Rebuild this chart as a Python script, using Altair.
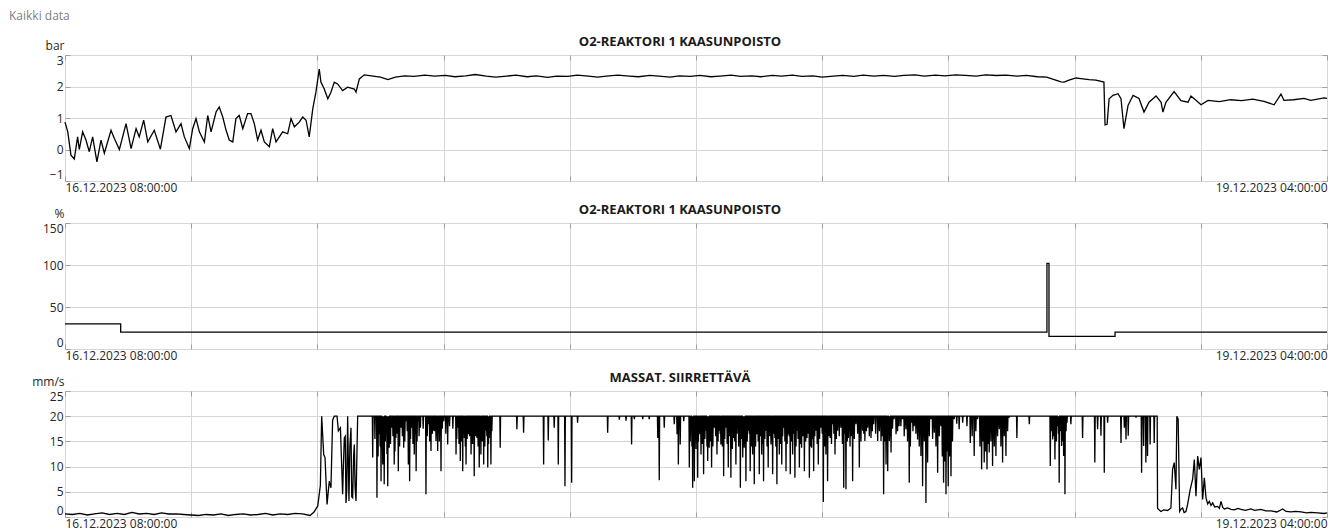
import altair as alt
import pandas as pd

START = pd.Timestamp("2023-12-16 08:00:00")
END = pd.Timestamp("2023-12-19 04:00:00")

# ---------------- Panel 1: O2-REAKTORI 1 KAASUNPOISTO (bar) ----------------
p1_hours = [0.00, 0.15, 0.32, 0.50, 0.68, 0.77, 0.95, 1.13, 1.31, 1.49, 1.72, 1.94, 2.12,
            2.48, 2.66, 2.93, 3.29, 3.56, 3.83, 4.00, 4.24, 4.46, 4.81, 5.14, 5.44, 5.71,
            5.98, 6.25, 6.43, 6.70, 6.88, 7.06, 7.24, 7.51, 7.69, 7.87, 8.14, 8.31, 8.50,
            8.68, 8.85, 9.04, 9.21, 9.39, 9.58, 9.84, 10.02, 10.20, 10.38, 10.56, 10.74,
            11.01, 11.19, 11.37, 11.73, 12.00, 12.18, 12.36, 12.62, 12.81, 12.99, 13.16,
            13.35, 13.52, 13.70, 13.79, 13.97, 14.16, 14.33, 14.51, 14.69, 14.96, 15.23,
            15.59, 15.68, 15.86, 16.13, 16.6, 17.0, 17.4, 17.8, 18.3, 18.8, 19.4, 19.9,
            20.5, 21.0, 21.6, 22.1, 22.7, 23.2, 23.8, 24.3, 24.9, 25.4, 26.0, 26.5, 27.1,
            27.6, 28.2, 28.7, 29.3, 29.8, 30.4, 30.9, 31.5, 32.0, 32.6, 33.1, 33.7, 34.2,
            34.8, 35.3, 35.9, 36.4, 37.0, 37.5, 38.1, 38.6, 39.2, 39.7, 40.3, 40.8, 41.4,
            41.9, 42.5, 43.0, 43.6, 44.1, 44.7, 45.2, 45.8, 46.3, 46.9, 47.4, 48.0, 48.5,
            49.1, 49.6, 50.2, 50.7, 51.3, 51.8, 52.4, 52.9, 53.3, 53.67, 53.83, 54.10,
            54.48, 54.74, 55.18, 55.55, 55.98, 56.04, 56.15, 56.26, 56.47, 56.74, 56.90,
            57.06, 57.28, 57.55, 57.87, 58.14, 58.41, 58.79, 59.06, 59.16, 59.32, 59.76,
            60.13, 60.51, 60.67, 60.94, 61.21, 61.59, 62.2, 62.8, 63.4, 64.0, 64.6, 65.15,
            65.52, 65.68, 66.2, 66.76, 67.13, 67.84, 68.0]
p1_bar = [0.87, 0.56, -0.18, -0.30, 0.40, 0.00, 0.56, 0.30, -0.07, 0.40, -0.39, 0.30, -0.12,
          0.61, 0.35, 0.00, 0.82, 0.03, 0.66, 0.40, 0.93, 0.24, 0.61, 0.01, 1.03, 1.08,
          0.56, 0.82, 0.40, 0.03, 0.66, 0.98, 0.56, 0.24, 1.08, 0.56, 1.19, 1.35, 1.03,
          0.61, 0.30, 0.24, 0.98, 1.08, 0.66, 1.14, 1.14, 0.82, 0.30, 0.61, 0.24,
          0.09, 0.66, 0.24, 0.56, 0.50, 0.98, 0.72, 0.87, 1.03, 0.93, 0.40,
          1.29, 1.82, 2.55, 2.14, 1.92, 1.61, 1.82, 2.14, 2.08, 1.87, 1.98,
          1.92, 1.82, 2.24, 2.37, 2.33, 2.30, 2.22, 2.30, 2.34, 2.32, 2.36, 2.33,
          2.35, 2.31, 2.34, 2.38, 2.33, 2.30, 2.33, 2.36, 2.31, 2.34, 2.29, 2.33, 2.32,
          2.36, 2.33, 2.30, 2.34, 2.36, 2.33, 2.31, 2.35, 2.33, 2.30, 2.34, 2.32, 2.35,
          2.31, 2.33, 2.36, 2.32, 2.34, 2.31, 2.35, 2.33, 2.36, 2.32, 2.34, 2.30, 2.33,
          2.35, 2.32, 2.36, 2.33, 2.35, 2.32, 2.35, 2.37, 2.33, 2.36, 2.34, 2.37, 2.35,
          2.33, 2.37, 2.35, 2.36, 2.33, 2.35, 2.31, 2.30, 2.22, 2.15, 2.14, 2.20,
          2.27, 2.25, 2.22, 2.20, 2.14, 0.78, 0.80, 1.61, 1.72, 1.77, 1.61,
          0.66, 1.40, 1.72, 1.62, 1.19, 1.50, 1.70, 1.50, 1.19, 1.50, 1.84,
          1.55, 1.50, 1.70, 1.56, 1.42, 1.56, 1.52, 1.58, 1.55, 1.60, 1.53, 1.42,
          1.76, 1.56, 1.58, 1.62, 1.56, 1.64, 1.62]

# ---------------- Panel 2: O2-REAKTORI 1 KAASUNPOISTO (%) ----------------
p2_hours = [0.0, 3.0, 52.91, 53.02, 56.58, 68.0]
p2_pct = [30, 20, 102, 15, 20, 20]

# ---------------- Panel 3: MASSAT. SIIRRETTÄVÄ (mm/s) ----------------
p3_start_hours = [0.0, 0.4, 0.8, 1.2, 1.6, 2.0, 2.4, 2.8, 3.2, 3.6, 4.0, 4.4, 4.8, 5.2, 5.6,
                  6.0, 6.4, 6.8, 7.2, 7.6, 8.0, 8.4, 8.8, 9.2, 9.6, 10.0, 10.4, 10.8, 11.2,
                  11.6, 12.0, 12.4, 12.8, 13.2, 13.42, 13.62, 13.76, 13.83, 13.94, 14.01,
                  14.12, 14.24, 14.33, 14.42, 14.51, 14.66, 14.73, 14.84, 14.96, 15.00, 15.05,
                  15.10, 15.14, 15.18, 15.23, 15.30, 15.35, 15.41, 15.45, 15.50, 15.55, 15.59,
                  15.63, 15.68, 15.77]
p3_start_vals = [0.6, 0.5, 0.7, 0.4, 0.6, 0.8, 0.5, 0.7, 0.5, 0.9, 0.6, 0.7, 0.5, 0.8, 0.6,
                 0.6, 0.5, 0.4, 0.3, 0.5, 0.4, 0.6, 0.3, 0.5, 0.6, 0.4, 0.5, 0.7, 0.4,
                 0.6, 0.5, 0.7, 0.6, 0.3, 1.0, 2.2, 6.3, 20.0, 12.4, 11.8,
                 2.5, 7.1, 5.8, 19.2, 20.0, 20.0, 17.1, 17.7, 4.5, 10.0, 15.7,
                 16.0, 2.8, 5.0, 20.0, 3.2, 14.0, 17.7, 4.0, 3.8, 12.0, 14.4,
                 6.0, 3.2, 20.0]
p3_plateau = 20.0
# dips from the 20 mm/s plateau (deep strokes)
p3_dip_hours = [16.58, 16.81, 16.93, 17.03, 17.12, 17.20, 17.31, 17.39, 17.47, 17.60, 17.74,
                17.83, 17.96, 18.10, 18.25, 18.37, 18.50, 18.57, 18.68, 18.82, 18.92, 19.01,
                19.15, 19.45, 19.58, 19.72, 19.87, 19.99, 20.08, 20.26, 20.41, 20.62, 21.07,
                21.16, 21.30, 21.43, 21.52, 21.61, 21.73, 21.88, 22.05, 22.20, 22.32, 22.41,
                22.56, 22.68, 22.78, 22.86, 22.95, 23.45, 24.35, 24.71, 25.79, 26.04, 26.36,
                26.58, 26.94, 27.30, 27.62, 29.24, 29.87, 30.23, 30.53, 30.68, 31.13, 31.48,
                31.94, 32.02, 32.29, 32.83, 32.98, 33.05, 33.15, 33.34, 33.64, 33.73, 33.82,
                33.91, 34.09, 34.18, 34.27, 34.41, 34.54, 34.63, 34.71, 34.84, 34.98, 35.13,
                35.25, 35.34, 35.49, 35.61, 35.74, 35.88, 36.03, 36.15, 36.39, 36.52, 36.60,
                36.69, 36.82, 36.92, 37.05, 37.14, 37.28, 37.41, 37.54, 37.64, 37.77, 37.89,
                38.04, 38.13, 38.25, 38.36, 38.49, 38.62, 38.72, 38.85, 38.97, 39.08, 39.21,
                39.33, 39.44, 39.57, 39.69, 39.84, 39.98, 40.11, 40.23, 40.34, 40.46, 40.59,
                40.73, 40.86, 41.00, 41.09, 41.23, 41.36, 41.49, 41.63, 41.81, 41.96, 42.08,
                42.21, 42.44, 42.62, 42.80, 42.98, 43.10, 43.25, 43.43, 43.57, 43.79, 43.97,
                44.11, 44.24, 44.33, 44.42, 44.51, 44.67, 44.78, 44.94, 45.13, 45.31, 45.49,
                45.62, 45.76, 45.94, 46.12, 46.21, 46.39, 46.48, 46.66, 46.84, 47.02, 47.20,
                47.34, 47.47, 47.59, 47.74, 47.91, 48.18, 48.37, 48.78, 48.99, 49.17, 49.39,
                49.53, 49.68, 49.80, 49.98, 50.16, 50.34, 50.52, 50.70, 50.88, 51.29, 51.96,
                53.09, 53.22, 53.34, 53.49, 53.57, 53.70, 53.81, 53.88, 53.99, 54.20, 54.83,
                55.49, 55.64, 55.82, 56.00, 56.18, 56.90, 57.08, 57.17, 57.29, 57.71, 58.01,
                58.12, 58.24, 58.33, 58.47, 58.69]
p3_dip_vals = [11.8, 3.8, 16.4, 7.1, 10.4, 6.5, 18.4, 6.1, 13.75, 17.7, 10.4,
               15.7, 9.1, 17.7, 13.75, 19.0, 10.4, 7.1, 17.7, 12.4, 9.1, 19.0,
               17.7, 4.5, 18.4, 13.1, 17.1, 15.1, 13.1, 9.1, 19.0, 14.4, 12.4,
               17.7, 11.1, 9.1, 15.7, 10.4, 16.4, 12.4, 8.1, 15.7, 9.8, 12.4,
               10.4, 17.1, 9.8, 15.7, 10.4, 13.75, 17.4, 16.7, 10.4, 15.2, 17.7,
               10.4, 6.1, 6.8, 18.7, 16.7, 19.3, 19.1, 14.4, 19.4, 19.4, 19.4,
               15.7, 7.3, 17.7, 18.4, 16.4, 10.4, 14.4, 19.0, 9.8, 17.7, 5.8,
               7.1, 7.8, 16.4, 12.4, 8.5, 17.1, 11.1, 13.75, 9.8, 17.7, 12.4,
               17.1, 14.4, 8.1, 17.7, 9.8, 7.8, 15.7, 10.4, 5.8, 11.8, 13.75,
               7.1, 17.1, 9.1, 12.4, 6.5, 16.4, 8.5, 12.4, 7.1, 17.1, 9.8,
               14.4, 8.5, 15.7, 6.5, 12.4, 10.4, 17.7, 9.1, 16.4, 8.5, 12.4,
               7.8, 17.1, 9.8, 13.75, 9.1, 15.7, 7.8, 13.75, 9.1, 17.1, 10.4,
               17.7, 3.0, 12.4, 7.1, 15.7, 18.4, 12.4, 17.1, 17.7, 5.8, 5.5,
               15.7, 7.1, 18.4, 9.8, 17.1, 15.1, 17.7, 15.7, 18.4, 15.1, 15.1,
               4.5, 10.4, 9.1, 15.1, 12.8, 19.4, 16.4, 18.0, 19.4, 17.4, 6.8,
               18.7, 18.0, 15.4, 12.1, 6.1, 2.8, 10.8, 19.4, 16.7, 8.8, 18.0,
               6.8, 4.5, 6.1, 8.1, 19.4, 17.4, 18.7, 14.7, 12.1, 19.4, 9.45,
               10.8, 9.45, 12.8, 10.1, 12.1, 17.4, 10.8, 12.1, 19.7, 15.7, 18.4,
               10.1, 15.4, 11.4, 18.0, 6.8, 14.1, 12.1, 4.5, 18.7, 18.4, 15.7,
               10.8, 17.4, 16.1, 8.8, 18.7, 14.7, 17.7, 15.4, 16.1, 19.7, 8.8,
               14.1, 10.8, 12.1, 14.4, 14.7]
# shallower strokes filling the dense bands just below 20 mm/s
p3_band_hours = [16.70, 16.87, 16.98, 17.08, 17.16, 17.26, 17.35, 17.43, 17.54, 17.67, 17.78,
                 17.90, 18.03, 18.18, 18.31, 18.44, 18.62, 18.75, 18.87, 18.97, 19.08, 19.30,
                 19.52, 19.65, 19.80, 19.93, 20.04, 20.17, 20.33, 20.52, 20.72, 20.90, 21.11,
                 21.23, 21.36, 21.48, 21.57, 21.67, 21.80, 21.96, 22.13, 22.26, 22.37, 22.49,
                 22.62, 22.73, 22.82, 22.91, 23.00,
                 33.69, 33.78, 33.86, 34.00, 34.13, 34.22, 34.34, 34.48, 34.59, 34.67, 34.78,
                 34.91, 35.06, 35.19, 35.30, 35.42, 35.55, 35.68, 35.81, 35.96, 36.09, 36.21,
                 36.30, 36.46, 36.56, 36.64, 36.76, 36.87, 36.98, 37.10, 37.21, 37.35, 37.48,
                 37.59, 37.71, 37.83, 37.96, 38.08, 38.19, 38.30, 38.43, 38.56, 38.67, 38.79,
                 38.91, 39.02, 39.15, 39.27, 39.39, 39.50, 39.63, 39.77, 39.91, 40.05, 40.17,
                 40.29, 40.40, 40.53, 40.66, 40.80, 40.93, 41.05, 41.16, 41.30, 41.43, 41.56,
                 41.72, 41.89, 42.02, 42.15, 42.30, 42.37, 42.53, 42.71, 42.89, 43.04, 43.18,
                 43.34, 43.50, 43.68, 43.88, 44.04, 44.17, 44.29, 44.38, 44.46, 44.59,
                 44.86, 45.04, 45.22, 45.40, 45.55, 45.69, 45.85, 46.03, 46.30, 46.57, 46.75,
                 46.93, 47.11, 47.27, 47.40, 47.53, 47.66, 47.82, 48.05, 48.60, 48.88, 49.08,
                 49.30, 49.46, 49.60, 49.74, 49.89, 50.07, 50.25, 50.43, 50.61, 50.79,
                 53.15, 53.28, 53.42, 53.53, 53.64, 53.76, 53.85, 53.94]
p3_band_vals = [15.5, 12.0, 14.0, 16.0, 13.5, 15.0, 12.5, 16.5, 14.5, 16.0, 13.0,
                16.5, 14.0, 16.0, 15.0, 17.0, 15.5, 14.5, 16.5, 15.0, 16.0, 17.5,
                16.0, 15.0, 16.5, 17.0, 16.0, 15.0, 17.5, 16.5, 18.0, 17.5, 15.5,
                14.5, 15.0, 16.5, 14.0, 15.5, 16.0, 14.5, 16.0, 14.0, 16.5, 15.0,
                14.0, 16.0, 14.5, 16.5, 17.0,
                15.0, 14.0, 16.0, 13.5, 15.0, 16.5, 14.5, 15.5, 14.0, 16.0, 15.0,
                14.0, 16.0, 15.0, 16.5, 14.0, 15.5, 14.5, 16.0, 13.5, 15.0, 16.5,
                14.0, 15.5, 16.0, 14.5, 15.0, 16.5, 14.0, 15.5, 14.0, 15.0, 16.0,
                14.5, 15.5, 14.0, 16.0, 15.0, 16.5, 14.0, 15.5, 14.5, 16.0, 15.0,
                14.5, 16.0, 15.0, 16.5, 14.0, 15.5, 14.5, 16.0, 15.0, 16.5, 14.0,
                15.5, 16.0, 14.5, 15.5, 16.5, 14.0, 15.0, 16.0, 14.5, 16.5, 15.5,
                16.0, 14.5, 16.5, 15.0, 14.0, 16.0, 15.5, 16.5, 15.0, 16.5, 17.0,
                16.0, 17.0, 16.5, 17.0, 16.0, 15.0, 16.0, 17.0, 16.0, 17.5,
                17.0, 18.0, 16.0, 15.0, 14.0, 17.0, 16.5, 14.0, 15.0, 16.0, 15.5,
                14.0, 16.0, 12.0, 11.0, 13.0, 12.0, 15.0, 18.5, 18.0, 16.0, 17.0,
                14.0, 15.0, 13.0, 14.5, 15.0, 14.0, 16.0, 14.0, 16.0, 17.0,
                17.0, 16.0, 15.0, 16.5, 17.0, 15.0, 16.0, 17.0]
p3_end_hours = [58.85, 58.87, 59.05, 59.20, 59.41, 59.59, 59.68, 59.77, 59.86, 59.91, 59.98,
                60.06, 60.14, 60.22, 60.30, 60.40, 60.49, 60.63, 60.76, 60.85, 60.94, 61.03,
                61.12, 61.21, 61.30, 61.39, 61.48, 61.57, 61.66, 61.75, 61.84, 61.95, 62.11,
                62.20, 62.29, 62.38, 62.47, 62.65, 62.83, 63.0, 63.2, 63.37, 63.6, 63.9,
                64.1, 64.44, 64.7, 64.98, 65.3, 65.61, 65.8, 66.06, 66.3, 66.6, 66.9, 67.13,
                67.5, 67.85, 68.0]
p3_end_vals = [20.0, 1.7, 1.1, 1.4, 1.3, 1.8, 9.45, 10.8, 5.5, 20.0, 19.4,
               1.1, 1.6, 1.8, 0.9, 1.1, 2.5, 5.5, 7.5, 11.4, 4.1, 12.1,
               9.45, 11.8, 3.5, 7.8, 3.8, 2.6, 3.1, 2.3, 2.8, 2.0, 2.1,
               1.7, 3.1, 1.9, 1.6, 1.8, 1.5, 1.4, 1.7, 1.5, 1.3, 1.6,
               1.3, 1.5, 1.2, 1.2, 1.0, 1.6, 1.1, 1.0, 1.1, 1.0, 0.8, 0.9,
               0.8, 0.7, 0.8]

# gridlines divide the time span into 10 equal parts
GRID_PARTS = 10

FONT = "Segoe UI, Open Sans, sans-serif"
GRID_COLOR = "#d6d6d6"
FRAME_COLOR = "#a0a0a0"
LABEL_COLOR = "#262626"
TICK_LEN = 5


def to_time(hours):
    return [START + pd.to_timedelta(h, unit="h") for h in hours]


def dt(ts):
    return alt.DateTime(year=ts.year, month=ts.month, date=ts.day,
                        hours=ts.hour, minutes=ts.minute, seconds=ts.second)


span = END - START
grid_times = [START + span * k / GRID_PARTS for k in range(GRID_PARTS + 1)]
grid_values = [dt(t) for t in grid_times]

df1 = pd.DataFrame({"t": to_time(p1_hours), "v": p1_bar})
df2 = pd.DataFrame({"t": to_time(p2_hours), "v": p2_pct})

dips = sorted(zip(p3_dip_hours + p3_band_hours, p3_dip_vals + p3_band_vals))
rows_h, rows_v = list(p3_start_hours), list(p3_start_vals)
for h, v in dips:
    rows_h += [h - 0.02, h, h + 0.02]
    rows_v += [p3_plateau, v, p3_plateau]
rows_h += p3_end_hours
rows_v += p3_end_vals
df3 = pd.DataFrame({"t": to_time(rows_h), "v": rows_v})

W = 1262
H = 126


def tick_axis(orient, values):
    # inward tick marks drawn on the frame
    return alt.Axis(orient=orient, values=values, offset=-TICK_LEN, tickSize=TICK_LEN,
                    tickColor=FRAME_COLOR, ticks=True, labels=False, domain=False,
                    grid=False, title=None)


def panel(df, unit, title, ydomain, yticks, interpolate="linear", caption=False):
    xscale = alt.Scale(domain=[dt(START), dt(END)], nice=False)
    yscale = alt.Scale(domain=ydomain, nice=False, zero=False)
    x = alt.X(
        "t:T",
        scale=xscale,
        axis=alt.Axis(
            values=grid_values,
            title=None,
            grid=True,
            gridColor=GRID_COLOR,
            gridWidth=1,
            domain=False,
            ticks=False,
            labelExpr="datum.index == 0 || datum.index == 1 ? timeFormat(datum.value, '%d.%m.%Y %H:%M:%S') : ''",
            labelFlush=True,
            labelOverlap=False,
            labelBound=False,
            labelPadding=1,
            labelFontSize=12,
            labelColor=LABEL_COLOR,
            labelFont=FONT,
        ),
    )
    y = alt.Y(
        "v:Q",
        scale=yscale,
        axis=alt.Axis(
            values=yticks,
            title=unit,
            titleAngle=0,
            titleAlign="right",
            titleBaseline="alphabetic",
            titleX=-1,
            titleY=-6,
            titleFontWeight="normal",
            titleFontSize=12,
            titleFont=FONT,
            titleColor=LABEL_COLOR,
            grid=True,
            gridColor=GRID_COLOR,
            domain=False,
            ticks=False,
            labelPadding=2,
            labelFlush=True,
            labelFlushOffset=0,
            labelFontSize=12,
            labelColor=LABEL_COLOR,
            labelFont=FONT,
        ),
    )
    line = alt.Chart(df).mark_line(color="black", strokeWidth=1.3,
                                   interpolate=interpolate).encode(x=x, y=y)
    ticks_a = alt.Chart(df).mark_line(strokeOpacity=0).encode(
        x=alt.X("t:T", scale=xscale, axis=tick_axis("bottom", grid_values)),
        y=alt.Y("v:Q", scale=yscale, axis=tick_axis("left", yticks)),
    )
    ticks_b = alt.Chart(df).mark_line(strokeOpacity=0).encode(
        x=alt.X("t:T", scale=xscale, axis=tick_axis("top", grid_values)),
        y=alt.Y("v:Q", scale=yscale, axis=tick_axis("right", yticks)),
    )
    head = alt.Chart(pd.DataFrame({"label": [title]})).mark_text(
        align="center", baseline="alphabetic", fontSize=13, fontWeight="bold",
        font=FONT, color="#1a1a1a"
    ).encode(x=alt.value(W / 2 - 16), y=alt.value(-9), text="label:N")
    layers = [line, ticks_a, ticks_b, head]
    if caption:
        layers.append(
            alt.Chart(pd.DataFrame({"label": ["Kaikki data"]})).mark_text(
                align="left", baseline="top", fontSize=12, font=FONT, color="#7f7f7f"
            ).encode(x=alt.value(-56), y=alt.value(-44), text="label:N")
        )
    return alt.layer(*layers).resolve_axis(x="independent", y="independent").properties(
        width=W, height=H)


c1 = panel(df1, "bar", "O2-REAKTORI 1 KAASUNPOISTO", [-1, 3], [-1, 0, 1, 2, 3], caption=True)
c2 = panel(df2, "%", "O2-REAKTORI 1 KAASUNPOISTO", [0, 150], [0, 50, 100, 150],
           interpolate="step-after")
c3 = panel(df3, "mm/s", "MASSAT. SIIRRETTÄVÄ", [0, 25], [0, 5, 10, 15, 20, 25])

chart = alt.vconcat(c1, c2, c3, spacing=42, bounds="flush").properties(
    padding={"left": 0, "top": 1, "right": 0, "bottom": 0}
).configure_view(
    stroke=FRAME_COLOR, strokeWidth=1
).configure(
    background="white", font=FONT
)

chart.save("out.html", embed_options={"renderer": "svg", "actions": False})
